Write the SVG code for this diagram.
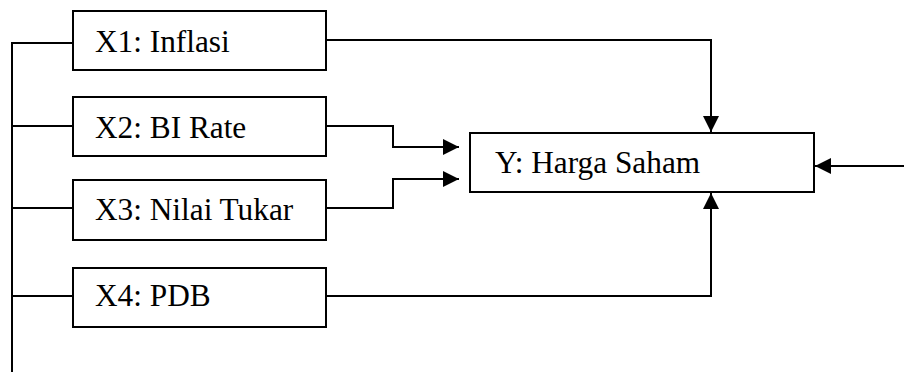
<svg xmlns="http://www.w3.org/2000/svg" width="904" height="374" viewBox="0 0 904 374">
<style>
.box{fill:#fff;stroke:#000;stroke-width:2}
.ln{fill:none;stroke:#000;stroke-width:2}
.t{font-family:"Liberation Serif","Times New Roman",serif;font-size:31.3px;fill:#000}
</style>
<defs>
<marker id="ah" viewBox="0 0 16 16" refX="16" refY="8" markerWidth="16" markerHeight="16" markerUnits="userSpaceOnUse" orient="auto">
<path d="M0,0 L16,8 L0,16 Z" fill="#000"/>
</marker>
</defs>
<rect width="904" height="374" fill="#fff"/>
<g id="connectors">
<path class="ln" d="M12,372 V43 H73"/>
<path class="ln" d="M12,126 H73"/>
<path class="ln" d="M12,208 H73"/>
<path class="ln" d="M12,296 H73"/>
<path class="ln" d="M326,40 H711 V132" marker-end="url(#ah)"/>
<path class="ln" d="M326,126 H393 V147 H459" marker-end="url(#ah)"/>
<path class="ln" d="M326,208 H393 V179 H459" marker-end="url(#ah)"/>
<path class="ln" d="M326,296 H711 V193" marker-end="url(#ah)"/>
<path class="ln" d="M904,166 H815" marker-end="url(#ah)"/>
</g>
<g id="x1"><rect class="box" x="73" y="11" width="253" height="59"/><text class="t" x="95" y="52">X1: Inflasi</text></g>
<g id="x2"><rect class="box" x="73" y="97" width="253" height="59"/><text class="t" x="95" y="138">X2: BI Rate</text></g>
<g id="x3"><rect class="box" x="73" y="180" width="253" height="60"/><text class="t" x="95" y="220">X3: Nilai Tukar</text></g>
<g id="x4"><rect class="box" x="73" y="268" width="253" height="59"/><text class="t" x="95" y="306">X4: PDB</text></g>
<g id="y"><rect class="box" x="470" y="133" width="344" height="59"/><text class="t" x="495" y="173">Y: Harga Saham</text></g>
</svg>
